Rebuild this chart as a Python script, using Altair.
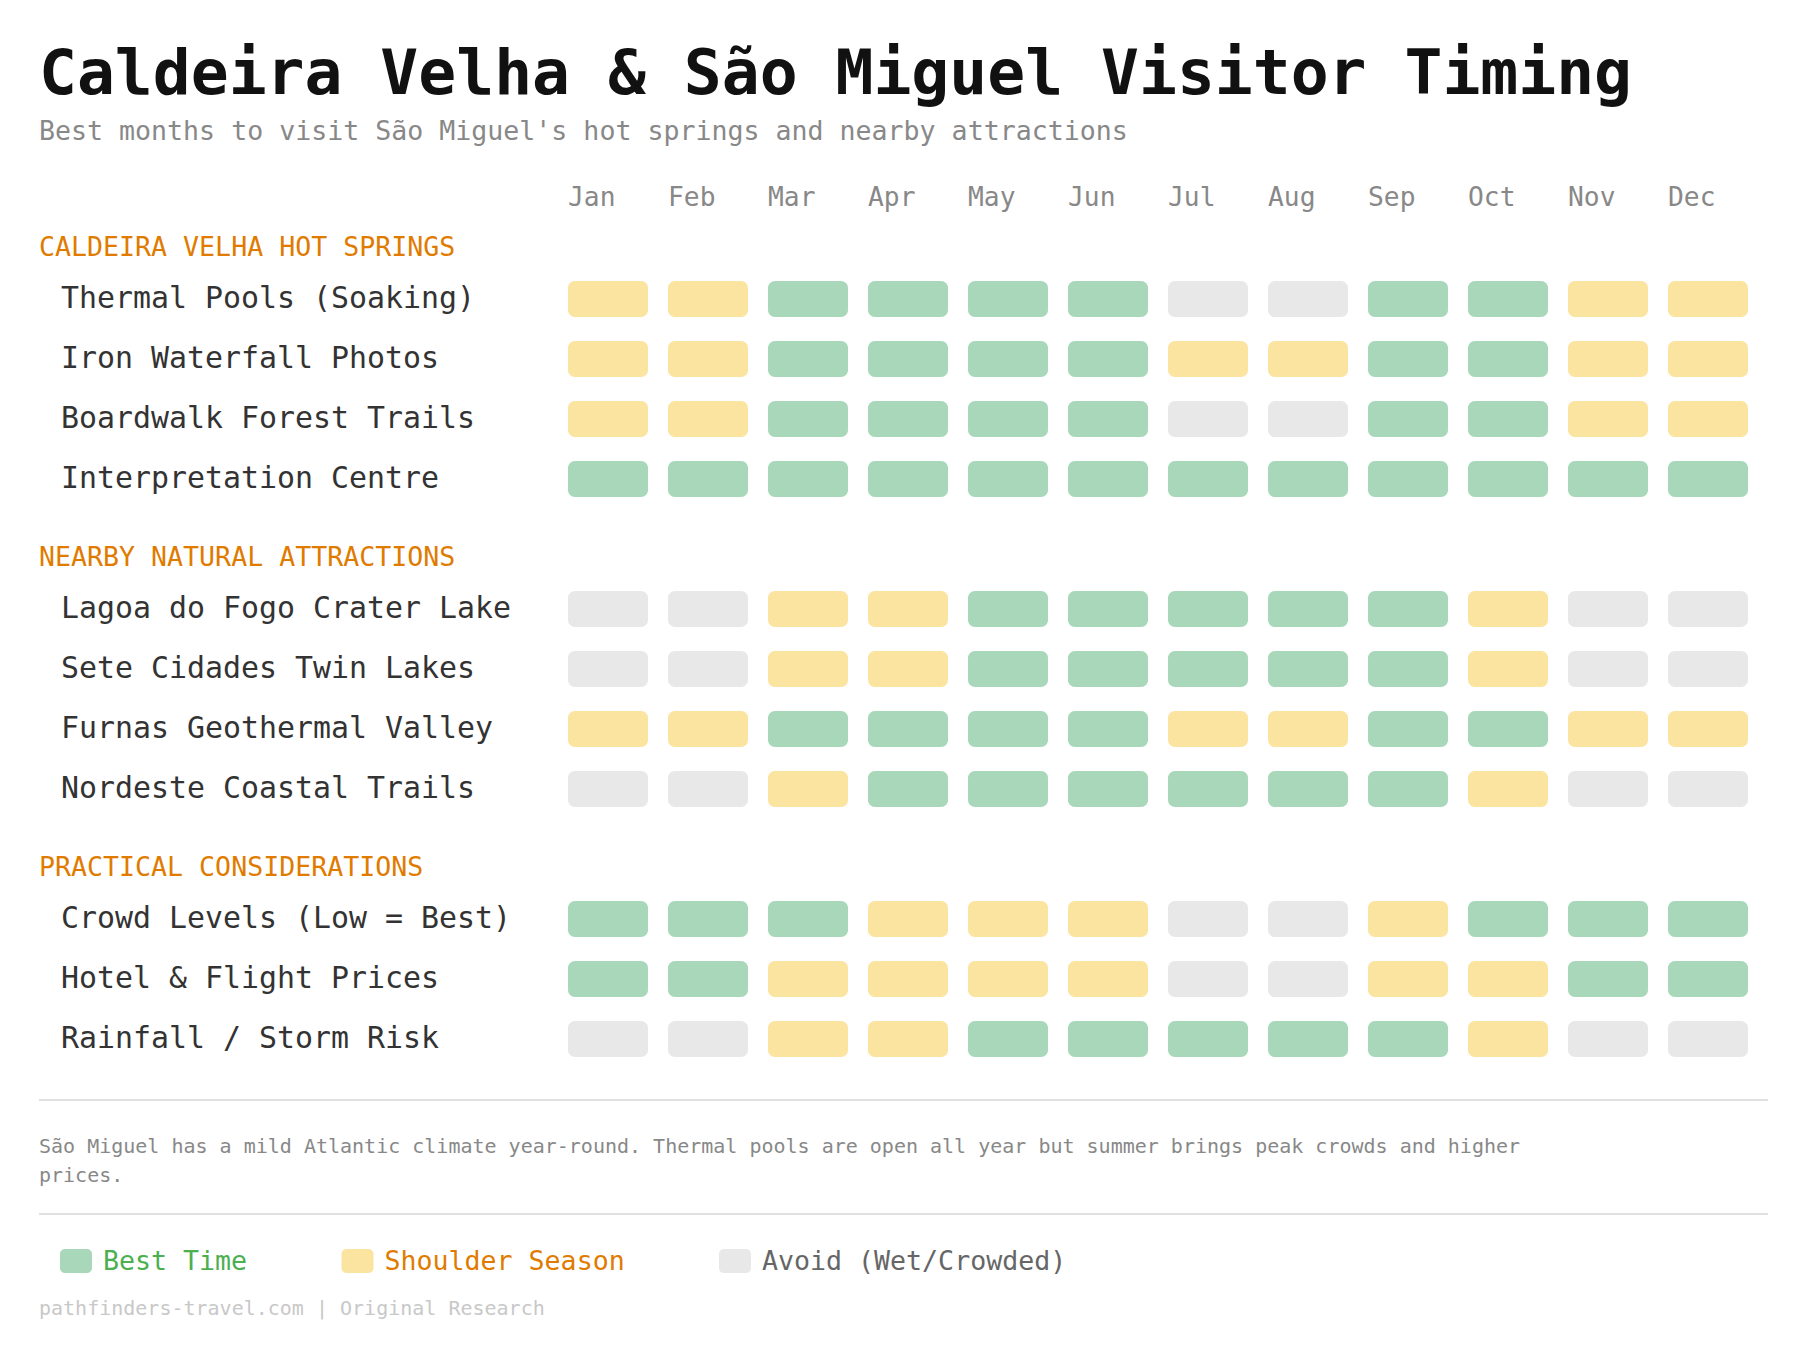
import altair as alt
import pandas as pd

# ---------------- data ----------------
TITLE = "Caldeira Velha & São Miguel Visitor Timing"
SUBTITLE = "Best months to visit São Miguel's hot springs and nearby attractions"
MONTHS = ["Jan", "Feb", "Mar", "Apr", "May", "Jun", "Jul", "Aug", "Sep", "Oct", "Nov", "Dec"]
SECTIONS = ["CALDEIRA VELHA HOT SPRINGS", "NEARBY NATURAL ATTRACTIONS", "PRACTICAL CONSIDERATIONS"]
ROW_LABELS = [
    ["Thermal Pools (Soaking)", "Iron Waterfall Photos", "Boardwalk Forest Trails", "Interpretation Centre"],
    ["Lagoa do Fogo Crater Lake", "Sete Cidades Twin Lakes", "Furnas Geothermal Valley", "Nordeste Coastal Trails"],
    ["Crowd Levels (Low = Best)", "Hotel & Flight Prices", "Rainfall / Storm Risk"],
]
# G = best, S = shoulder, A = avoid
RATINGS = [
    ["S S G G G G A A G G S S", "S S G G G G S S G G S S", "S S G G G G A A G G S S", "G G G G G G G G G G G G"],
    ["A A S S G G G G G S A A", "A A S S G G G G G S A A", "S S G G G G S S G G S S", "A A S G G G G G G S A A"],
    ["G G G S S S A A S G G G", "G G S S S S A A S S G G", "A A S S G G G G G S A A"],
]
CODES = ["G", "S", "A"]
LEGEND_LABELS = ["Best Time", "Shoulder Season", "Avoid (Wet/Crowded)"]
CELL_COLORS = ["#a8d8b9", "#fbe49f", "#e8e8e8"]
LEGEND_TEXT_COLORS = ["#4caf50", "#e07b00", "#666666"]
NOTE_LINES = [
    "São Miguel has a mild Atlantic climate year-round. Thermal pools are open all year but summer brings peak crowds and higher",
    "prices.",
]
FOOTER = "pathfinders-travel.com | Original Research"

# ---------------- layout ----------------
FONT = "DejaVu Sans Mono"
W, H = 1792, 1338
LEFT = 31
LABEL_X = 53
FIRST_HEAD = 240
HEAD_TO_ROW = 51
ROW_PITCH = 60
ROW_TO_HEAD = 79
CELL_H = 36
GRID_X = [560, 1740]

name_of = dict(zip(CODES, LEGEND_LABELS))
headers, rows, cells = [], [], []
y = FIRST_HEAD
for s, sec in enumerate(SECTIONS):
    headers.append({"label": sec, "yc": y})
    y += HEAD_TO_ROW
    for r, name in enumerate(ROW_LABELS[s]):
        rows.append({"label": name, "yc": y})
        for m, code in zip(MONTHS, RATINGS[s][r].split()):
            cells.append({"row": name, "month": m, "status": name_of[code],
                          "y0": y - CELL_H / 2, "y1": y + CELL_H / 2})
        y += ROW_PITCH
    y += ROW_TO_HEAD - ROW_PITCH

cells_df = pd.DataFrame(cells)
rows_df = pd.DataFrame(rows)
heads_df = pd.DataFrame(headers)

yscale = alt.Scale(domain=[0, H], range=[0, H], nice=False, zero=False)
xscale = alt.Scale(domain=MONTHS, range=GRID_X, paddingInner=0.2, paddingOuter=0)

grid = alt.Chart(cells_df).mark_rect(cornerRadius=7).encode(
    x=alt.X("month:N", scale=xscale, sort=MONTHS, axis=None),
    y=alt.Y("y0:Q", scale=yscale, axis=None),
    y2="y1:Q",
    color=alt.Color("status:N", scale=alt.Scale(domain=LEGEND_LABELS, range=CELL_COLORS), legend=None),
)

month_labels = alt.Chart(pd.DataFrame({"month": MONTHS})).mark_text(
    align="left", baseline="alphabetic", dx=-40, font=FONT, fontSize=26.3, color="#888888"
).encode(
    x=alt.X("month:N", scale=xscale, sort=MONTHS, axis=None),
    y=alt.value(198),
    text="month:N",
)

row_labels = alt.Chart(rows_df).mark_text(
    align="left", baseline="middle", font=FONT, fontSize=29.9, color="#333333"
).encode(
    x=alt.value(LABEL_X),
    y=alt.Y("yc:Q", scale=yscale, axis=None),
    text="label:N",
)

head_labels = alt.Chart(heads_df).mark_text(
    align="left", baseline="middle", font=FONT, fontSize=26.6, color="#e07b00"
).encode(
    x=alt.value(LEFT),
    y=alt.Y("yc:Q", scale=yscale, axis=None),
    text="label:N",
)

def text_layer(txt, ypos, size, color, weight="normal"):
    return alt.Chart(pd.DataFrame({"t": [txt]})).mark_text(
        align="left", baseline="alphabetic", font=FONT, fontSize=size, color=color, fontWeight=weight
    ).encode(x=alt.value(LEFT), y=alt.value(ypos), text="t:N")

title = text_layer(TITLE, 86, 63, "#111111", "bold")
subtitle = text_layer(SUBTITLE, 132, 26.6, "#888888")
note1 = text_layer(NOTE_LINES[0], 1145, 20, "#888888")
note2 = text_layer(NOTE_LINES[1], 1174, 20, "#888888")
footer = text_layer(FOOTER, 1307, 20, "#c8c8c8")

rules = alt.Chart(pd.DataFrame({"y": [1092, 1206]})).mark_rule(color="#e0e0e0", strokeWidth=2).encode(
    x=alt.value(LEFT), x2=alt.value(1760), y=alt.Y("y:Q", scale=yscale, axis=None)
)

# legend (drawn manually)
legend_layers = []
lx = 52
CHAR_W = 16.0
for lab, fill, tcol in zip(LEGEND_LABELS, CELL_COLORS, LEGEND_TEXT_COLORS):
    sw = alt.Chart(pd.DataFrame({"k": [lab]})).mark_rect(cornerRadius=5, color=fill).encode(
        x=alt.value(lx), x2=alt.value(lx + 32), y=alt.value(1241), y2=alt.value(1265)
    )
    tx = alt.Chart(pd.DataFrame({"k": [lab]})).mark_text(
        align="left", baseline="middle", font=FONT, fontSize=26.6, color=tcol
    ).encode(x=alt.value(lx + 43), y=alt.value(1254), text="k:N")
    legend_layers += [sw, tx]
    lx += 43 + len(lab) * CHAR_W + 94.5

chart = alt.layer(
    grid, month_labels, row_labels, head_labels, title, subtitle, rules, note1, note2, footer, *legend_layers
).properties(
    width=W, height=H, padding=0, autosize=alt.AutoSizeParams(type="none"), background="white"
).configure_view(stroke=None)

chart.save("out.html", embed_options={"renderer": "svg", "actions": False})
